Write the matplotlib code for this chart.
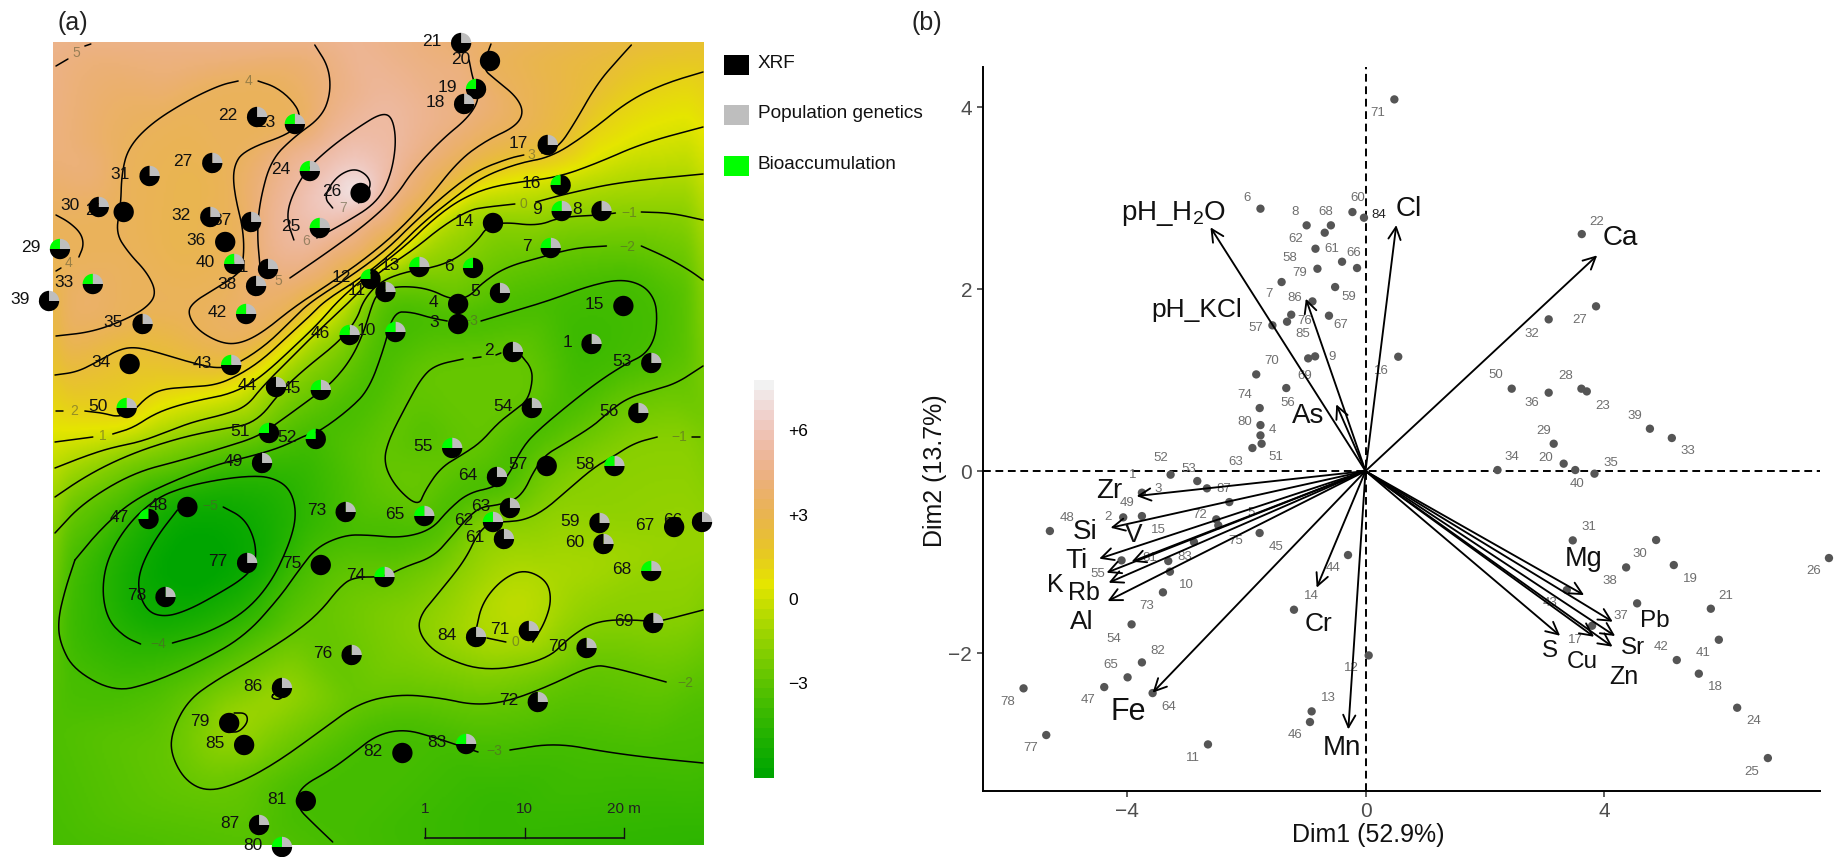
import colorsys
import numpy as np
import matplotlib
matplotlib.use('Agg')
import matplotlib.pyplot as plt
from matplotlib.colors import ListedColormap
from matplotlib.patches import Wedge, Rectangle
from matplotlib.tri import Triangulation, LinearTriInterpolator

plt.rcParams['font.family'] = ['Liberation Sans', 'DejaVu Sans']
plt.rcParams['mathtext.fontset'] = 'custom'
plt.rcParams['mathtext.rm'] = 'Liberation Sans'
plt.rcParams['mathtext.default'] = 'regular'

# ---- panel (a), sites in metres from the lower left corner of the map
# type: b = XRF only, g = XRF + genetics, c = XRF + bioaccumulation, a = all three
site_names = [21, 20, 19, 18, 22, 23, 17, 27, 24, 31, 16, 26, 30, 28, 32, 37, 9, 8, 14, 25, 36, 29, 7, 40, 41,
              13, 6, 12, 38, 33, 11, 5, 39, 4, 42, 15, 3, 35, 10, 46, 1, 2, 34, 43, 53, 44, 45, 54, 56, 50,
              51, 52, 55, 49, 58, 57, 64, 48, 65, 73, 63, 47, 62, 59, 67, 66, 61, 60, 77, 75, 68, 74, 78,
              71, 69, 84, 70, 76, 86, 72, 79, 85, 83, 82, 81, 87, 80]
site_x = [41.0, 43.9, 42.5, 41.3, 20.5, 24.3, 49.7, 16.0, 25.8, 9.7, 51.0, 30.9, 4.6, 7.1, 15.8, 19.9, 51.1, 55.1,
          44.2, 26.8, 17.3, 0.7, 50.0, 18.2, 21.6, 36.8, 42.2, 31.9, 20.4, 4.0, 33.4, 44.9, -0.4, 40.7, 19.4,
          57.3, 40.7, 9.0, 34.4, 29.8, 54.1, 46.2, 7.7, 17.9, 60.1, 22.4, 26.9, 48.1, 58.8, 7.4,
          21.7, 26.4, 40.1, 21.0, 56.4, 49.6, 44.6, 13.5, 37.3, 29.4, 45.9, 9.6, 44.2, 54.9, 62.4, 65.2, 45.3,
          55.3, 19.5, 26.9, 60.1, 33.3, 11.3, 47.8, 60.3, 42.5, 53.6, 30.0, 23.0, 48.7, 17.7, 19.2, 41.5,
          35.1, 25.4, 20.7, 23.0]
site_y = [80.2, 78.4, 75.6, 74.1, 72.8, 72.1, 70.0, 68.2, 67.4, 66.9, 66.0, 65.2, 63.8, 63.3, 62.8, 62.3, 63.4, 63.4,
          62.2, 61.7, 60.3, 59.6, 59.7, 58.1, 57.6, 57.8, 57.7, 56.6, 55.9, 56.1, 55.3, 55.2, 54.4, 54.1, 53.1,
          53.9, 52.1, 52.1, 51.3, 51.0, 50.1, 49.3, 48.1, 48.0, 48.2, 45.8, 45.5, 43.7, 43.2, 43.7,
          41.2, 40.6, 39.7, 38.2, 37.9, 37.9, 36.8, 33.8, 32.9, 33.3, 33.7, 32.6, 32.3, 32.2, 31.8, 32.3, 30.6,
          30.1, 28.2, 28.0, 27.4, 26.8, 24.8, 21.4, 22.2, 20.8, 19.7, 19.0, 15.7, 14.3, 12.2, 10.0, 10.1,
          9.2, 4.4, 2.0, -0.2]
site_type = list('gbcgga' 'ggag' 'cbgbgg' 'agbabaaag' 'accgagggba' 'bbgaaggbag' 'gagga'
                 'ccagabgbag' 'gcagbggggb' 'aagggggggg' 'bbabbga')

# contour traces (level, vertices)
line_5a = (5, [(0.3, 77.9), (1.5, 78.6)])
line_5b = (5, [(3.2, 79.9), (3.8, 80.1)])
line_4a = (4, [(0.3, 63.0), (1.6, 62.3), (2.8, 61.2), (3.1, 60.0), (2.6, 58.8)])
line_4b = (4, [(0.3, 57.4), (0.8, 57.7)])
line_4c = (4, [(0.3, 50.9), (3.9, 51.3), (7.2, 52.5), (9.5, 53.8), (10.4, 55.2), (9.5, 57.2), (7.6, 59.2), (6.3, 61.2),
               (6.8, 63.8), (6.9, 67.2), (7.6, 69.8), (9.9, 72.2), (13.6, 74.5), (16.8, 76.0), (18.6, 76.4)])
line_4d = (4, [(20.6, 76.4), (22.4, 75.8), (24.0, 74.5), (24.9, 73.0), (24.3, 71.3), (19.2, 69.5), (18.1, 67.8),
               (18.2, 65.2), (19.2, 61.2), (19.1, 57.8), (18.2, 56.8), (16.4, 55.7), (14.1, 54.3), (13.5, 53.2),
               (14.5, 51.5), (16.8, 50.2), (18.7, 50.1), (21.0, 51.2), (24.2, 53.8), (27.9, 56.2), (31.6, 58.8),
               (34.8, 61.5), (37.6, 64.5), (40.8, 68.5), (43.6, 70.5), (46.4, 71.8), (47.3, 73.2), (46.6, 74.8),
               (44.5, 76.5), (43.1, 77.7), (44.0, 80.1)])
line_5c = (5, [(26.3, 80.0), (27.7, 77.8), (27.9, 75.2), (27.0, 72.8), (24.2, 70.8), (21.9, 68.5), (20.8, 64.5),
               (20.5, 61.2), (20.8, 57.8)])
line_5d = (5, [(23.8, 56.7), (27.9, 59.5), (31.6, 62.2), (34.4, 64.8), (36.2, 67.5), (39.0, 70.5), (41.8, 72.8),
               (42.9, 74.8), (42.2, 76.5), (41.8, 78.5)])
line_6 = (6, [(26.5, 60.7), (29.3, 62.2), (32.5, 64.2), (33.9, 66.8), (34.5, 70.2), (34.1, 72.8), (33.0, 73.2),
              (30.7, 71.8), (27.9, 69.8), (25.4, 67.5), (23.8, 64.5), (23.5, 62.5), (24.2, 60.5)])
line_7 = (7, [(28.1, 63.7), (27.2, 64.8), (28.4, 66.8), (30.2, 67.7), (31.6, 67.0), (32.0, 65.8), (30.7, 64.2)])
line_3a = (3, [(0.2, 47.0), (2.4, 47.3), (4.4, 48.3), (6.7, 49.6), (8.4, 49.8), (10.7, 49.2), (14.0, 48.2), (16.7, 47.6),
               (18.7, 48.2), (21.4, 50.0), (23.7, 52.2), (25.7, 54.2), (29.8, 56.8), (33.5, 59.5), (36.2, 62.2),
               (39.9, 65.5), (42.7, 67.5), (45.9, 68.7), (47.3, 69.0)])
line_3b = (3, [(49.1, 69.2), (50.8, 69.8), (52.4, 72.2), (54.7, 76.2), (57.0, 78.8), (58.1, 80.0)])
line_2a = (2, [(0.3, 43.4), (1.0, 43.4)])
line_2b = (2, [(3.2, 43.4), (5.0, 43.2), (6.5, 42.8), (8.0, 43.3), (9.4, 44.8), (11.0, 45.6), (13.7, 45.8), (16.4, 46.0),
               (18.7, 47.0), (21.0, 48.5), (23.4, 50.7), (25.7, 52.8), (27.4, 54.5), (31.1, 56.8), (34.4, 59.5),
               (37.1, 62.2), (40.4, 64.8), (43.1, 66.8), (46.8, 68.2), (50.1, 68.8), (53.8, 71.2), (57.9, 74.5),
               (61.6, 76.2), (65.3, 77.3)])
line_1a = (1, [(0.2, 40.3), (4.0, 40.8)])
line_1b = (1, [(6.0, 41.1), (8.0, 41.7), (10.0, 43.0), (12.0, 43.8), (14.7, 44.5), (17.4, 45.0), (19.7, 46.0), (21.7, 47.5),
               (24.4, 50.0), (26.7, 52.2), (28.7, 54.5), (31.6, 57.0), (35.3, 59.8), (38.1, 62.5), (40.8, 64.5),
               (43.6, 65.7), (46.8, 66.3), (50.8, 66.8), (54.7, 68.2), (59.3, 70.2), (65.3, 71.8)])
line_0a = (0, [(0.2, 37.7), (3.0, 38.8), (5.7, 39.7), (8.7, 40.3), (11.4, 41.3), (14.0, 42.3), (17.0, 43.0), (19.4, 43.8),
               (21.0, 45.8), (23.7, 48.5), (26.0, 50.8), (30.0, 54.5), (32.3, 57.0), (36.2, 59.5), (39.0, 61.8),
               (41.8, 63.5), (43.6, 63.8), (46.4, 64.1)])
line_0b = (0, [(48.5, 64.3), (51.9, 65.2), (57.0, 66.3), (65.3, 67.1)])
line_m1a = (-1, [(0.2, 34.8), (2.7, 36.5), (5.4, 38.0), (8.4, 39.3), (11.4, 40.3), (14.0, 41.0), (17.0, 41.6), (20.4, 42.2),
                 (23.0, 45.5), (25.4, 47.7), (28.7, 50.3), (30.5, 52.5), (31.2, 54.5), (32.8, 56.3), (35.3, 57.3),
                 (38.5, 57.8), (40.8, 58.8), (42.7, 60.5), (43.6, 61.8), (45.2, 62.3), (48.7, 61.9), (51.0, 62.8),
                 (55.1, 63.0), (56.5, 63.2)])
line_m1b = (-1, [(59.1, 63.3), (62.1, 63.2), (65.3, 62.5)])
line_m2a = (-2, [(0.2, 31.2), (3.0, 34.2), (8.0, 37.2), (13.0, 38.5), (17.0, 39.7), (20.5, 40.8), (22.7, 42.3), (26.0, 44.7),
                 (28.0, 46.2), (29.9, 48.5), (31.2, 51.2), (32.2, 54.5), (32.8, 55.2), (34.4, 55.9), (37.6, 55.7),
                 (40.1, 54.5), (41.8, 54.8), (43.1, 56.2), (45.5, 57.8), (49.1, 58.8), (52.4, 59.7), (55.6, 59.9)])
line_m2b = (-2, [(59.1, 59.9), (61.6, 58.8), (63.9, 57.5), (65.3, 56.5)])
line_m3a = (-3, [(2.2, 28.5), (4.7, 31.5), (8.0, 34.5), (13.0, 36.8), (17.0, 38.2), (20.0, 38.9), (23.0, 39.8), (25.4, 41.0),
                 (26.7, 41.3), (29.7, 43.5), (31.7, 45.5), (33.2, 49.5), (34.2, 53.3), (36.0, 53.3), (38.0, 52.7),
                 (39.6, 52.4)])
line_m3b = (-3, [(43.0, 52.4), (46.7, 53.5), (50.0, 54.5), (53.8, 55.9), (57.0, 56.6), (59.3, 56.0), (60.5, 54.5), (60.7, 52.5),
                 (60.4, 50.5), (59.4, 49.0), (57.7, 48.2), (55.0, 46.5), (52.0, 44.2), (48.4, 41.2), (47.0, 39.5),
                 (45.7, 36.8), (44.4, 35.8), (41.7, 35.2), (39.7, 33.5), (38.0, 31.5), (35.0, 30.7), (31.7, 31.0),
                 (29.3, 31.0), (26.5, 29.8), (24.7, 27.5), (22.8, 24.8), (19.2, 20.8), (14.5, 18.2), (9.9, 16.2),
                 (6.2, 15.3), (2.1, 17.5), (0.7, 20.2), (0.5, 22.5), (1.2, 25.5), (2.2, 28.5)])
line_m4 = (-4, [(12.0, 20.2), (15.5, 21.2), (19.2, 23.2), (21.9, 26.2), (23.8, 30.2), (24.5, 33.2), (23.8, 35.7), (21.9, 36.8),
                (19.6, 36.9), (16.4, 36.5), (13.2, 35.8), (10.4, 34.7), (7.6, 32.2), (5.5, 28.8), (4.9, 25.5), (5.5, 22.5),
                (7.2, 20.8), (8.8, 20.1)])
line_m5 = (-5, [(17.1, 33.8), (19.2, 32.7), (20.3, 30.5), (20.4, 28.2), (19.2, 26.7), (16.4, 25.0), (13.6, 23.5), (11.3, 22.8),
                (9.5, 23.3), (8.5, 25.5), (8.8, 27.8), (10.4, 30.8), (12.5, 33.5)])
line_m2c = (-2, [(44.5, 49.0), (45.0, 49.2)])
line_m2d = (-2, [(47.0, 49.0), (48.0, 47.8), (48.2, 46.5), (47.7, 44.5), (46.4, 43.5), (44.7, 42.2), (43.0, 40.3), (41.4, 39.2),
                 (39.0, 37.8), (37.4, 35.5), (36.7, 33.8), (34.4, 35.8), (33.2, 38.2), (33.7, 40.5), (35.4, 43.8),
                 (37.0, 46.7), (38.4, 48.0), (41.2, 48.6)])
line_m2e = (-2, [(42.2, 48.7), (43.0, 48.8)])
line_m2f = (-2, [(65.3, 47.9), (62.7, 46.2), (60.4, 45.5), (57.7, 44.7), (55.7, 43.2), (54.4, 42.0), (51.7, 40.3), (49.4, 39.0),
                 (48.2, 37.2), (47.4, 35.5), (46.4, 34.5), (44.7, 34.0), (43.0, 33.8), (41.7, 32.8), (40.0, 30.8),
                 (38.2, 28.8), (35.3, 27.8), (33.3, 26.8), (30.2, 26.8), (28.8, 25.8), (27.0, 23.5), (24.7, 21.5),
                 (20.5, 18.8), (16.4, 16.5), (13.6, 14.5), (12.0, 11.5), (11.8, 9.2), (13.2, 6.5), (15.5, 5.3),
                 (18.7, 6.2), (22.4, 8.2), (27.0, 11.5), (30.7, 14.2), (34.8, 15.1), (39.0, 14.7), (42.2, 14.0),
                 (45.5, 14.3), (49.6, 15.8), (54.2, 18.0), (56.1, 17.8), (61.6, 16.3)])
line_m1c = (-1, [(64.2, 40.8), (65.0, 40.8)])
line_m1d = (-1, [(60.7, 40.8), (58.4, 40.2), (56.2, 38.8), (54.4, 37.8), (51.7, 35.5), (49.4, 33.5), (47.4, 32.5), (45.4, 32.3),
                 (44.0, 32.3), (42.7, 31.2), (41.4, 28.5), (39.0, 25.5), (36.7, 22.8), (36.9, 20.8), (39.0, 18.8),
                 (43.6, 17.3), (49.6, 18.5), (51.9, 20.8), (54.7, 22.5), (59.3, 22.5), (60.3, 22.2), (65.3, 23.5)])
line_0c = (0, [(42.5, 21.5), (43.1, 24.2), (45.0, 26.5), (47.3, 27.6), (49.6, 26.5), (50.1, 24.5), (49.4, 22.2), (48.2, 20.3)])
line_0d = (0, [(43.6, 20.7), (45.5, 20.3)])
line_m3c = (-3, [(45.9, 9.5), (50.5, 10.2), (55.6, 9.3), (60.2, 8.7), (65.3, 8.2)])
line_m3d = (-3, [(42.7, 9.3), (40.6, 10.0), (38.5, 10.7), (35.3, 11.6), (32.5, 11.0), (30.2, 9.2), (27.9, 7.5), (24.7, 5.7),
                 (24.5, 3.8), (26.1, 2.2), (28.1, 0.3)])
line_0e = (-0.5, [(22.2, 15.2), (21.9, 14.7), (22.8, 14.5), (23.3, 15.2), (22.2, 15.2)])
line_0f = (-0.5, [(18.2, 13.2), (19.4, 13.2), (19.6, 12.3), (18.7, 11.3), (17.8, 11.3)])

contour_lines = [line_5a, line_5b, line_4a, line_4b, line_4c, line_4d, line_5c, line_5d, line_6, line_7, line_3a, line_3b,
                 line_2a, line_2b, line_1a, line_1b, line_0a, line_0b, line_m1a, line_m1b, line_m2a, line_m2b, line_m3a,
                 line_m3b, line_m4, line_m5, line_m2c, line_m2d, line_m2e, line_m2f, line_m1c, line_m1d, line_0c, line_0d,
                 line_m3c, line_m3d, line_0e, line_0f]

contour_text = [('5', 2.3, 79.2), ('4', 1.6, 58.2), ('4', 19.6, 76.4), ('5', 22.6, 56.4), ('6', 25.4, 60.4), ('7', 29.1, 63.7),
                ('3', 48.0, 69.0), ('2', 2.1, 43.4), ('1', 5.0, 40.9), ('0', 47.3, 64.1), ('\u22121', 57.9, 63.2),
                ('\u22122', 57.7, 59.8), ('\u22123', 41.9, 52.4), ('\u22121', 62.9, 40.8), ('\u22125', 15.8, 33.9),
                ('\u22124', 10.6, 20.1), ('0', 46.5, 20.3), ('\u22122', 63.5, 16.2), ('\u22123', 44.3, 9.4)]

# surface values between the contours (corners, edges, peaks and pits)
extra_x = [0, 65.4, 0, 65.4, 0, 0, 65.4, 65.4, 65.4, 30.9, 14.0, 37.0, 46.5, 45.0, 53.0, 19.0, 63.0, 20, 45, 33,
           3.0, 12.0, 14.0, 13.0, 19.0, 3.0, 32.5, 30.0, 36.0]
extra_y = [80.3, 80.3, 0, 0, 12, 70, 30, 15, 42, 65.5, 28.0, 41.0, 24.0, 4.0, 50.0, 11.0, 30.0, 0, 0, 75,
           68.0, 78.0, 66.0, 60.0, 53.0, 54.0, 68.0, 80.3, 79.0]
extra_z = [5.4, 2.8, -3.0, -3.8, -2.7, 5.0, -0.6, -2.6, -1.7, 8.6, -6.0, -2.6, 0.5, -3.6, -3.4, -0.4, -0.6, -2.5, -3.6, 5.8,
           5.0, 5.0, 3.6, 3.6, 4.4, 4.5, 6.5, 5.6, 5.2]

colorbar_ticks = [6, 3, 0, -3]
colorbar_ticklabels = ['+6', '+3', '0', '\u22123']
legend_names = ['XRF', 'Population genetics', 'Bioaccumulation']
legend_colors = ['#000000', '#BEBEBE', '#00FF00']
scale_ticks = [37.4, 47.4, 57.4]
scale_labels = ['1', '10', '20 m']

# ---- panel (b), PCA scores
score_x = [0.483, -1.759, -0.986, -0.58, -0.683, -0.219, -0.026, -0.838, -0.393, -0.142, -0.805, -1.405, -0.509, -0.889,
           -1.244, -1.314, -0.612, -1.559, 0.548, -0.844, -0.96, -1.83, -1.327, -1.772, -1.759, -1.759, -1.74, -1.894,
           3.621, 3.86, 3.067, 2.448, 3.067, 3.615, 3.705, 4.762, 5.129, 3.151, 3.318, 2.21, 3.512, 3.834,
           -3.264, -2.817, -2.655, -3.744, -2.281, -4.057, -3.744, -5.285, -2.499, -2.465, -2.873, -1.773, -4.085,
           -3.303, -3.275, -3.392, -3.917, -3.744, -3.984, -4.375, -3.565, -5.726, -5.346, -2.638, -0.902, -0.93,
           -1.198, -0.293, 3.47, 4.866, 4.364, 5.162, 4.548, 5.782, 5.916, 5.212, 5.581, 6.223, 6.737, 7.76, 3.37,
           3.794, 0.053]
score_y = [4.084, 2.883, 2.70, 2.70, 2.619, 2.846, 2.784, 2.443, 2.30, 2.231, 2.223, 2.077, 2.022, 1.864, 1.718, 1.641,
           1.707, 1.601, 1.256, 1.26, 1.238, 1.062, 0.912, 0.692, 0.505, 0.392, 0.30, 0.253, 2.604, 1.81, 1.667, 0.905,
           0.861, 0.905, 0.875, 0.465, 0.363, 0.30, 0.081, 0.011, 0.011, -0.029, -0.04, -0.11, -0.19, -0.238, -0.341,
           -0.509, -0.495, -0.659, -0.531, -0.597, -0.78, -0.681, -0.982, -0.989, -1.106, -1.333, -1.685, -2.103,
           -2.267, -2.374, -2.44, -2.388, -2.901, -3.004, -2.641, -2.758, -1.524, -0.923, -0.762, -0.758, -1.059,
           -1.033, -1.454, -1.513, -1.854, -2.077, -2.227, -2.601, -3.154, -0.956, -1.308, -1.70, -2.026]
score_text = [('71', .206, 3.93), ('6', -1.985, 3.004), ('8', -1.186, 2.85), ('68', -.664, 2.85), ('62', -1.173, 2.553),
              ('60', -.129, 3.004), ('61', -.561, 2.443), ('66', -.193, 2.399), ('58', -1.276, 2.344),
              ('79', -1.108, 2.176), ('7', -1.611, 1.949), ('59', -.277, 1.916), ('86', -1.186, 1.901), ('76', -1.012, 1.648),
              ('67', -.419, 1.604), ('57', -1.843, 1.568), ('85', -1.044, 1.502), ('9', -.567, 1.256), ('16', .271, 1.099),
              ('70', -1.566, 1.205), ('69', -1.018, 1.044), ('74', -2.017, .832), ('56', -1.295, .751), ('80', -2.017, .538),
              ('4', -1.553, .447), ('51', -1.495, .158), ('22', 3.872, 2.736), ('27', 3.582, 1.659), ('32', 2.79, 1.509),
              ('50', 2.184, 1.055), ('28', 3.357, 1.044), ('36', 2.784, .747), ('23', 3.976, .714), ('39', 4.51, .604),
              ('33', 5.393, .216), ('29', 2.977, .436), ('34', 2.442, .158), ('20', 3.022, .147), ('35', 4.111, .088),
              ('40', 3.544, -.147), ('52', -3.431, .143), ('53', -2.951, .026), ('63', -2.175, .099), ('1', -3.9, -.048),
              ('3', -3.47, -.194), ('87', -2.381, -.201), ('49', -4.0, -.348), ('5', -1.918, -.458), ('2', -4.313, -.502),
              ('72', -2.777, -.484), ('48', -5.005, -.513), ('15', -3.464, -.652), ('75', -2.18, -.769), ('45', -1.499, -.832),
              ('81', -3.61, -.952), ('83', -3.029, -.941), ('55', -4.486, -1.128), ('44', -.55, -1.062), ('10', -2.995, -1.256),
              ('14', -.913, -1.374), ('73', -3.665, -1.487), ('54', -4.207, -1.842), ('82', -3.481, -1.974), ('65', -4.263, -2.136),
              ('78', -5.988, -2.535), ('47', -4.642, -2.52), ('64', -3.302, -2.59), ('13', -.622, -2.491), ('12', -.231, -2.161),
              ('46', -1.186, -2.905), ('77', -5.609, -3.048), ('11', -2.895, -3.15), ('31', 3.744, -.619), ('30', 4.592, -.916),
              ('38', 4.095, -1.205), ('19', 5.441, -1.187), ('21', 6.039, -1.37), ('37', 4.274, -1.593), ('43', 3.09, -1.454),
              ('17', 3.509, -1.857), ('42', 4.944, -1.938), ('41', 5.648, -2.004), ('18', 5.865, -2.37), ('24', 6.496, -2.751),
              ('25', 6.473, -3.308), ('26', 7.507, -1.099)]

# loadings: name, tip x, tip y, label x, label y, font size
var_names = ['Ca', 'Cl', 'As', 'pH_KCl', r'pH_H$_{2}$O', 'Zr', 'Si', 'V', 'Ti', 'K', 'Rb', 'Al', 'Fe', 'Cr', 'Mn',
             'Mg', 'Pb', 'Sr', 'Zn', 'Cu', 'S']
var_x = [3.879, .515, -.49, -.999, -2.596, -3.833, -4.269, -3.917, -4.459, -4.336, -4.302, -4.319, -3.565, -.818, -.288,
         3.66, 4.14, 4.18, 4.136, 3.827, 3.258]
var_y = [2.37, 2.703, .733, 1.894, 2.678, -.275, -.623, -.996, -.963, -1.117, -1.227, -1.429, -2.436, -1.282, -2.839,
         -1.363, -1.656, -1.813, -1.93, -1.821, -1.81]
var_label_x = [4.265, .722, -.966, -2.82, -3.216, -4.29, -4.688, -3.877, -4.838, -5.2, -4.71, -4.754, -3.973, -.79, -.4,
               3.649, 4.839, 4.475, 4.319, 3.621, 3.09]
var_label_y = [2.564, 2.875, .604, 1.77, 2.835, -.22, -.667, -.703, -.989, -1.253, -1.344, -1.656, -2.648, -1.678, -3.048,
               -.971, -1.652, -1.945, -2.26, -2.095, -1.978]
var_size = [20, 20, 20, 19, 20, 20, 20, 19, 20, 18, 18, 19, 22, 19, 20, 19.5, 17.5, 17.5, 18, 17.5, 17.5]


def terrain_colors(n):
    # same ramp as R terrain.colors
    out = []
    half = n // 2
    for t in np.linspace(0, 1, half):
        out.append(colorsys.hsv_to_rgb(4 / 12 + t * (2 / 12 - 4 / 12), 1.0, 0.65 + t * 0.25))
    for t in np.linspace(0, 1, n - half + 1)[1:]:
        out.append(colorsys.hsv_to_rgb((2 / 12) * (1 - t), 1 - t, 0.9 + t * 0.05))
    return out


def smooth(pts, rounds=3):
    pts = np.array(pts, dtype=float)
    closed = len(pts) > 3 and np.allclose(pts[0], pts[-1])
    for _ in range(rounds):
        if closed:
            body = pts[:-1]
            nxt = np.roll(body, -1, axis=0)
            q = 0.75 * body + 0.25 * nxt
            r = 0.25 * body + 0.75 * nxt
            pts = np.empty((2 * len(body) + 1, 2))
            pts[0:-1:2], pts[1::2] = q, r
            pts[-1] = pts[0]
        else:
            q = 0.75 * pts[:-1] + 0.25 * pts[1:]
            r = 0.25 * pts[:-1] + 0.75 * pts[1:]
            mid = np.empty((2 * len(q), 2))
            mid[0::2], mid[1::2] = q, r
            pts = np.vstack([pts[0], mid, pts[-1]])
    return pts[:, 0], pts[:, 1]


def blur(a, size):
    kernel = np.ones(size) / size
    pad = size // 2
    a = np.pad(a, pad, mode='edge')
    a = np.apply_along_axis(lambda v: np.convolve(v, kernel, mode='same'), 0, a)
    a = np.apply_along_axis(lambda v: np.convolve(v, kernel, mode='same'), 1, a)
    return a[pad:-pad, pad:-pad]


W, H = 1840, 857


def px_axes(left, top, right, bottom):
    return fig.add_axes([left / W, 1 - bottom / H, (right - left) / W, (bottom - top) / H])


fig = plt.figure(figsize=(18.4, 8.57), dpi=100)
field_cmap = ListedColormap(terrain_colors(256))
band_cmap = ListedColormap(terrain_colors(40))

# --- map
ax = px_axes(53, 42, 704, 845)
ax.set_xlim(0, 65.4)
ax.set_ylim(0, 80.3)
ax.axis('off')

px_x, px_y, px_z = list(extra_x), list(extra_y), list(extra_z)
for level, verts in contour_lines:
    for vx, vy in verts:
        px_x.append(vx)
        px_y.append(vy)
        px_z.append(level)
all_pts = np.round(np.column_stack([px_x, px_y]), 2)
_, keep = np.unique(all_pts, axis=0, return_index=True)
tri = Triangulation(all_pts[keep, 0], all_pts[keep, 1])
interp = LinearTriInterpolator(tri, np.array(px_z)[keep])
gx, gy = np.meshgrid(np.linspace(0, 65.4, 330), np.linspace(0, 80.3, 400))
surface = np.ma.filled(interp(gx, gy), np.nan)
surface = np.where(np.isnan(surface), np.nanmean(surface), surface)
surface = blur(blur(surface, 13), 9)
ax.imshow(surface, origin='lower', extent=(0, 65.4, 0, 80.3), cmap=field_cmap, vmin=-5.5, vmax=8.2,
          aspect='auto', interpolation='bilinear', zorder=1)

for level, verts in contour_lines:
    lx, ly = smooth(verts)
    ax.plot(lx, ly, color='black', lw=1.1, solid_capstyle='round', zorder=2)
for txt, tx, ty in contour_text:
    ax.text(tx, ty, txt, fontsize=10, color='#555533', alpha=0.55, ha='center', va='center', zorder=3)

for name, sx, sy in zip(site_names, site_x, site_y):
    ax.text(sx - 1.95, sy + 0.15, str(name), fontsize=12.5, ha='right', va='center', color='#111111',
            clip_on=False, zorder=4)

for sx, sy, kind in zip(site_x, site_y, site_type):
    if kind == 'b':
        parts = [(0, 360, 'black')]
    elif kind == 'g':
        parts = [(0, 90, legend_colors[1]), (90, 360, 'black')]
    elif kind == 'c':
        parts = [(90, 180, legend_colors[2]), (180, 450, 'black')]
    else:
        parts = [(0, 90, legend_colors[1]), (90, 180, legend_colors[2]), (180, 360, 'black')]
    for a0, a1, col in parts:
        ax.add_patch(Wedge((sx, sy), 1.02, a0, a1, facecolor=col, edgecolor='none', clip_on=False, zorder=5))

# scale bar
ax.plot([scale_ticks[0], scale_ticks[-1]], [0.67, 0.67], color='#111111', lw=1.2, zorder=6)
for st, sl in zip(scale_ticks, scale_labels):
    ax.plot([st, st], [0.67, 1.67], color='#111111', lw=1.0, zorder=6)
    ax.text(st, 3.6, sl, fontsize=11, ha='center', va='center', color='#222222', zorder=6)

# --- colour bar
cax = px_axes(754, 380, 774, 778)
cax.imshow(np.linspace(-6.4, 7.8, 40).reshape(-1, 1), origin='lower', extent=(0, 1, -6.4, 7.8), cmap=band_cmap,
           aspect='auto', interpolation='nearest')
cax.set_xticks([])
cax.yaxis.tick_right()
cax.set_yticks(colorbar_ticks)
cax.set_yticklabels(colorbar_ticklabels, fontsize=12.5)
cax.tick_params(axis='y', length=0, pad=10)
for s in cax.spines.values():
    s.set_visible(False)

# --- legend and panel letters
over = fig.add_axes([0, 0, 1, 1], facecolor='none')
over.set_xlim(0, W)
over.set_ylim(H, 0)
over.axis('off')
for i, (nm, col) in enumerate(zip(legend_names, legend_colors)):
    over.add_patch(Rectangle((724, 55 + 50.3 * i), 25, 20, facecolor=col, edgecolor='none'))
    over.text(758, 63 + 50.5 * i, nm, fontsize=13.7, va='center', ha='left', color='#111111')
over.text(73, 23, '(a)', fontsize=18, ha='center', va='center', color='#222222')
over.text(927, 23, '(b)', fontsize=18, ha='center', va='center', color='#222222')

# --- biplot
bx = px_axes(983.3, 67, 1820, 791)
bx.set_xlim(-6.40, 7.61)
bx.set_ylim(-3.516, 4.44)
bx.spines['top'].set_visible(False)
bx.spines['right'].set_visible(False)
bx.spines['left'].set_linewidth(1.4)
bx.spines['bottom'].set_linewidth(1.4)
bx.set_xticks([-4, 0, 4])
bx.set_xticklabels(['\u22124', '0', '4'])
bx.set_yticks([-2, 0, 2, 4])
bx.set_yticklabels(['\u22122', '0', '2', '4'])
bx.tick_params(axis='both', labelsize=15, labelcolor='#4d4d4d', color='#333333', length=4, width=1.1, pad=4)
bx.set_xlabel('Dim1 (52.9%)', fontsize=18, color='#111111', va='center')
bx.set_ylabel('Dim2 (13.7%)', fontsize=18, color='#111111', va='center')
bx.xaxis.set_label_coords(0.46, -0.061)
bx.yaxis.set_label_coords(-0.0577, 0.442)
bx.axhline(0, color='black', lw=1.4, linestyle=(0, (4, 2.4)), zorder=1)
bx.axvline(0, color='black', lw=1.4, linestyle=(0, (4, 2.4)), zorder=1)

bx.scatter(score_x, score_y, s=36, color='#555555', edgecolor='none', clip_on=False, zorder=2)
for txt, tx, ty in score_text:
    bx.text(tx, ty, txt, fontsize=9.5, color='#6e6e6e', ha='center', va='center', zorder=2)
bx.text(.219, 2.817, '84', fontsize=9.5, color='#222222', ha='center', va='center', zorder=2)

for nm, vx, vy, lx, ly, fs in zip(var_names, var_x, var_y, var_label_x, var_label_y, var_size):
    bx.annotate('', xy=(vx, vy), xytext=(0, 0),
                arrowprops=dict(arrowstyle='->', color='black', lw=1.35, shrinkA=0, shrinkB=0, mutation_scale=22),
                zorder=3)
    bx.text(lx, ly, nm, fontsize=fs, color='#111111', ha='center', va='center', zorder=4)

fig.savefig('out.png', dpi=100, facecolor='white')
